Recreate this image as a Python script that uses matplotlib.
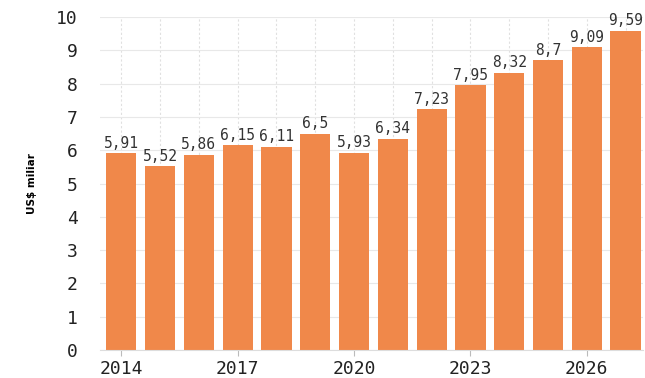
import numpy as np
import matplotlib.pyplot as plt

years = np.arange(2014, 2028)
values = [5.91, 5.52, 5.86, 6.15, 6.11, 6.5, 5.93, 6.34, 7.23, 7.95, 8.32, 8.7, 9.09, 9.59]
labels = ["5,91", "5,52", "5,86", "6,15", "6,11", "6,5", "5,93", "6,34", "7,23", "7,95", "8,32", "8,7", "9,09", "9,59"]
tick_years = [2014, 2017, 2020, 2023, 2026]

fig = plt.figure(figsize=(6.45, 3.78), dpi=100)
ax = fig.add_axes([0.155, 0.074, 0.842, 0.881])

ax.bar(years, values, width=0.78, color="#F0884A", zorder=2)
for x, v, t in zip(years, values, labels):
    ax.text(x, v + 0.08, t, ha="center", va="bottom", fontsize=10.5,
            family="DejaVu Sans Mono", color="#333333", zorder=3)

ax.set_xlim(2013.45, 2027.45)
ax.set_ylim(0, 10)
ax.set_yticks(range(0, 11))
ax.set_xticks(tick_years)
ax.set_xticks(years, minor=True)
ax.tick_params(axis="y", length=0, labelsize=13, pad=16, labelcolor="#222222")
ax.tick_params(axis="x", which="major", length=4, color="#bbbbbb", labelsize=13,
               labelcolor="#222222")
ax.tick_params(axis="x", which="minor", length=0)
for lab in ax.get_xticklabels() + ax.get_yticklabels():
    lab.set_family("DejaVu Sans Mono")
ax.grid(axis="y", color="#e8e8e8", linewidth=0.8, zorder=0)
ax.grid(axis="x", which="both", color="#e0e0e0", linestyle=(0, (2, 2)), linewidth=0.8, zorder=0)
for s in ["top", "right", "left"]:
    ax.spines[s].set_visible(False)
ax.spines["bottom"].set_color("#dddddd")
ax.set_ylabel("US$ miliar", fontsize=7.5, fontweight="bold", labelpad=14)

fig.savefig("out.png", dpi=100)
